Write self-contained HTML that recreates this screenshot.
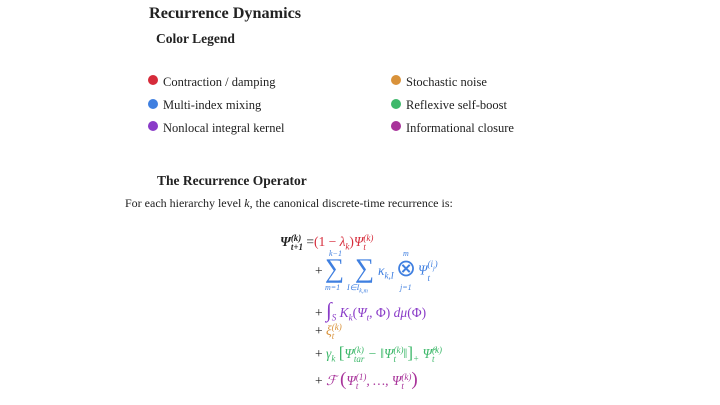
<!DOCTYPE html>
<html><head><meta charset="utf-8"><style>
body{margin:0;width:720px;height:405px;background:#fff;position:relative;overflow:hidden;font-family:"Liberation Serif",serif;color:#222}
.a{position:absolute;white-space:nowrap}
.d{position:absolute;width:10px;height:10px;border-radius:50%}
.l{font-size:12.5px}
.m{font-size:13.5px;font-style:italic}
sub,sup{font-size:9px}
.r{color:#d62b3a}.b{color:#3f7fe0}.p{color:#8a3cc8}.o{color:#d9923a}.g{color:#3db86a}.mg{color:#a8339a}
</style></head><body>
<div class="a" style="left:149px;top:4px;font-size:16.2px;font-weight:bold">Recurrence Dynamics</div>
<div class="a" style="left:156px;top:31px;font-size:13.5px;font-weight:bold">Color Legend</div>

<div class="d" style="left:148px;top:75px;background:#d62b3a"></div><div class="a l" style="left:163px;top:75px">Contraction / damping</div>
<div class="d" style="left:148px;top:99px;background:#3f7fe0"></div><div class="a l" style="left:163px;top:98px">Multi-index mixing</div>
<div class="d" style="left:148px;top:121px;background:#8a3cc8"></div><div class="a l" style="left:163px;top:121px">Nonlocal integral kernel</div>
<div class="d" style="left:391px;top:75px;background:#d9923a"></div><div class="a l" style="left:406px;top:75px">Stochastic noise</div>
<div class="d" style="left:391px;top:99px;background:#3db86a"></div><div class="a l" style="left:406px;top:98px">Reflexive self-boost</div>
<div class="d" style="left:391px;top:121px;background:#a8339a"></div><div class="a l" style="left:406px;top:121px">Informational closure</div>

<div class="a" style="left:157px;top:173px;font-size:13.5px;font-weight:bold">The Recurrence Operator</div>
<div class="a" style="left:125px;top:196px;font-size:12px">For each hierarchy level <i>k</i>, the canonical discrete-time recurrence is:</div>

<div class="a m" style="left:280px;top:234px"><b>Ψ</b><span style="display:inline-block;vertical-align:middle;line-height:9px;font-size:9px;font-weight:bold"><span>(k)</span><br><span>t+1</span></span> <span style="font-style:normal">=</span><span class="r"><span style="font-style:normal">(1 − </span>λ<sub>k</sub><span style="font-style:normal">)</span>Ψ<span style="display:inline-block;vertical-align:middle;line-height:9px;font-size:9px"><span>(k)</span><br><span>t</span></span></span></div>

<div class="a" style="left:315px;top:263px;font-size:13.5px">+</div>
<div class="a b" style="left:329px;top:249px;font-size:8px;font-style:italic">k−1</div>
<div class="a b" style="left:325px;top:253px;font-size:27px">∑</div>
<div class="a b" style="left:325px;top:283px;font-size:8px;font-style:italic">m=1</div>
<div class="a b" style="left:355px;top:253px;font-size:27px">∑</div>
<div class="a b" style="left:347px;top:283px;font-size:8px;font-style:italic">I∈I<sub style="font-size:6px">k,m</sub></div>
<div class="a b m" style="left:378px;top:263px">κ<sub>k,I</sub></div>
<div class="a b" style="left:396px;top:254px;font-size:24px">⊗</div>
<div class="a b" style="left:403px;top:249px;font-size:8px;font-style:italic">m</div>
<div class="a b" style="left:400px;top:283px;font-size:8px;font-style:italic">j=1</div>
<div class="a b m" style="left:418px;top:260px">Ψ<span style="display:inline-block;vertical-align:middle;line-height:9px;font-size:9px"><span>(i<sub style="font-size:6px">j</sub>)</span><br><span>t</span></span></div>

<div class="a p m" style="left:315px;top:298px"><span style="color:#222;font-style:normal">+ </span><span style="font-size:21px;font-style:normal">∫</span><sub>S</sub> K<sub>k</sub><span style="font-style:normal">(</span>Ψ<sub>t</sub>, <span style="font-style:normal">Φ) </span>dμ<span style="font-style:normal">(Φ)</span></div>
<div class="a o m" style="left:315px;top:323px"><span style="color:#222;font-style:normal">+ </span>ξ<span style="display:inline-block;vertical-align:middle;line-height:9px;font-size:9px"><span>(k)</span><br><span>t</span></span></div>
<div class="a g m" style="left:315px;top:343px"><span style="color:#222;font-style:normal">+ </span>γ<sub>k</sub> <span style="font-style:normal;font-size:17px">[</span>Ψ<span style="display:inline-block;vertical-align:middle;line-height:9px;font-size:9px"><span>(k)</span><br><span>tar</span></span> − ‖Ψ<span style="display:inline-block;vertical-align:middle;line-height:9px;font-size:9px"><span>(k)</span><br><span>t</span></span>‖<span style="font-style:normal;font-size:17px">]</span><sub>+</sub> Ψ̂<span style="display:inline-block;vertical-align:middle;line-height:9px;font-size:9px"><span>(k)</span><br><span>t</span></span></div>
<div class="a mg m" style="left:315px;top:369px"><span style="color:#222;font-style:normal">+ </span>ℱ <span style="font-style:normal;font-size:19px">(</span>Ψ<span style="display:inline-block;vertical-align:middle;line-height:9px;font-size:9px"><span>(1)</span><br><span>t</span></span>, …, Ψ<span style="display:inline-block;vertical-align:middle;line-height:9px;font-size:9px"><span>(k)</span><br><span>t</span></span><span style="font-style:normal;font-size:19px">)</span></div>
</body></html>
